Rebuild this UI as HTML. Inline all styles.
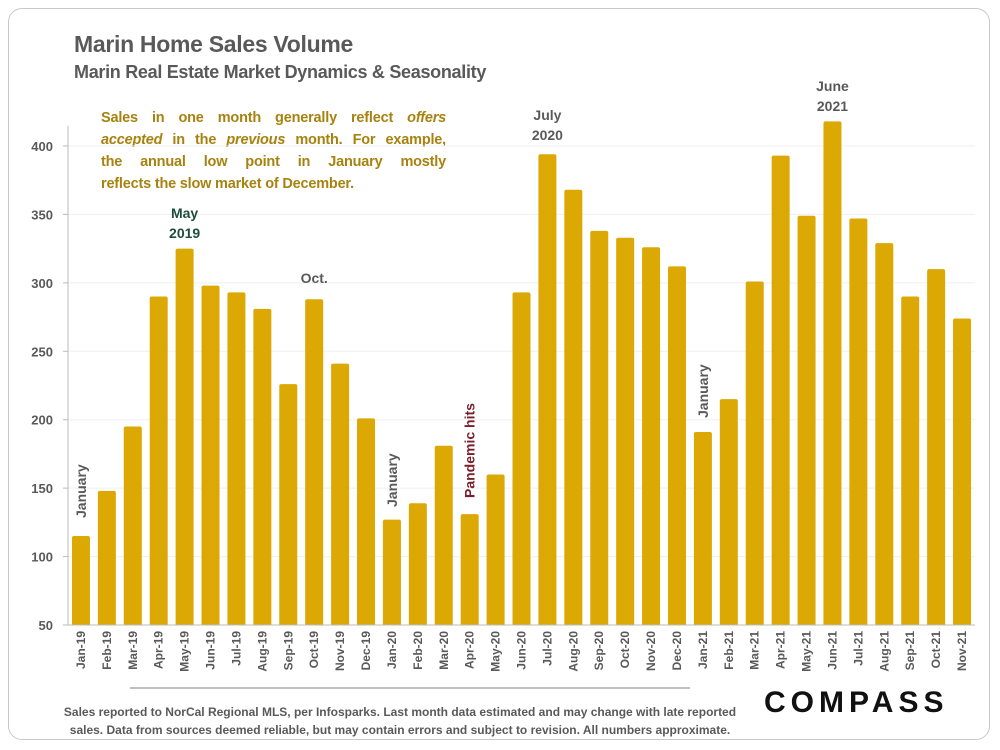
<!DOCTYPE html>
<html><head><meta charset="utf-8"><style>
body{margin:0;background:#fff;font-family:"Liberation Sans",sans-serif}
#frame{position:absolute;left:8px;top:8px;width:982px;height:732px;border:1.5px solid #c8c8c8;border-radius:14px;box-sizing:border-box}
.t{position:absolute;font-weight:bold;white-space:nowrap}
.nl{text-align:justify;text-align-last:justify;white-space:nowrap}
</style></head><body>
<div id="frame"></div>
<div class="t" style="left:74px;top:31px;font-size:23px;color:#595959;letter-spacing:-0.3px">Marin Home Sales Volume</div>
<div class="t" style="left:74px;top:62px;font-size:18px;color:#595959;letter-spacing:-0.3px">Marin Real Estate Market Dynamics &amp; Seasonality</div>
<div class="t" style="left:101px;top:107px;width:345px;font-size:14.5px;line-height:22px;color:#a8820f;letter-spacing:-0.2px">
<div class="nl">Sales in one month generally reflect <i>offers</i></div>
<div class="nl"><i>accepted</i> in the <i>previous</i> month. For example,</div>
<div class="nl">the annual low point in January mostly</div>
<div>reflects the slow market of December.</div>
</div>
<svg id="chart" width="1000" height="750" style="position:absolute;left:0;top:0"></svg>
<div class="t" style="left:50px;top:703px;width:700px;text-align:center;font-size:12px;line-height:18px;color:#595959;white-space:normal">Sales reported to NorCal Regional MLS, per Infosparks. Last month data estimated and may change with late reported sales. Data from sources deemed reliable, but may contain errors and subject to revision. All numbers approximate.</div>
<div class="t" style="left:764px;top:686px;font-size:30px;letter-spacing:5px;color:#111">COMPASS</div>
<script>
const categories=["Jan-19","Feb-19","Mar-19","Apr-19","May-19","Jun-19","Jul-19","Aug-19","Sep-19","Oct-19","Nov-19","Dec-19","Jan-20","Feb-20","Mar-20","Apr-20","May-20","Jun-20","Jul-20","Aug-20","Sep-20","Oct-20","Nov-20","Dec-20","Jan-21","Feb-21","Mar-21","Apr-21","May-21","Jun-21","Jul-21","Aug-21","Sep-21","Oct-21","Nov-21"];
const sales=[115,148,195,290,325,298,293,281,226,288,241,201,127,139,181,131,160,293,394,368,338,333,326,312,191,215,301,393,349,418,347,329,290,310,274];
const yTicks=[50,100,150,200,250,300,350,400];
const svg=document.getElementById('chart');const NS='http://www.w3.org/2000/svg';
const x0=68,x1=975,yMin=50,yMax=400,yB=625,yT=146;
const y=v=>yB-(v-yMin)/(yMax-yMin)*(yB-yT);
const step=(x1-x0)/categories.length;
const xc=i=>x0+step*(i+0.5);
function mk(t,a,txt){const e=document.createElementNS(NS,t);for(const k in a)e.setAttribute(k,a[k]);if(txt!=null)e.textContent=txt;svg.appendChild(e);return e;}
yTicks.forEach(v=>{
 if(v>yMin){const g=mk('line',{x1:x0,x2:x1,y1:y(v),y2:y(v),stroke:'#efefef','stroke-width':1});
 
 }
 const tk=mk('line',{x1:x0-5,x2:x0,y1:y(v),y2:y(v),stroke:'#bbb'});
 
 
 const l=mk('text',{x:53,y:y(v)+5,'text-anchor':'end','font-size':13,'font-weight':'bold',fill:'#595959'},v);
 
 
});
const ax=mk('line',{x1:x0,x2:x0,y1:yT-20,y2:yB,stroke:'#bbb'});


sales.forEach((v,i)=>{
 const bw=18,top=y(v);
 const r=mk('path',{d:`M${xc(i)-bw/2},${yB}V${top+2}Q${xc(i)-bw/2},${top} ${xc(i)-bw/2+2},${top}H${xc(i)+bw/2-2}Q${xc(i)+bw/2},${top} ${xc(i)+bw/2},${top+2}V${yB}Z`,fill:'#dba804'});
 
 
 const t=mk('text',{x:0,y:0,transform:`translate(${xc(i)+4},${yB+6}) rotate(-90)`,'text-anchor':'end','font-size':12,'font-weight':'bold',fill:'#595959'},categories[i]);
 
 
});
const xa=mk('line',{x1:x0,x2:x1,y1:yB,y2:yB,stroke:'#bbb'});


const sep=mk('line',{x1:130,x2:690,y1:688,y2:688,stroke:'#bfbfbf','stroke-width':2});


function ann(txt,x,yy,col,rot,name){const a={x:x,y:yy,'text-anchor':'middle','font-size':14,'font-weight':'bold',fill:col};
 if(rot){a.x=0;a.y=0;a.transform=`translate(${x},${yy}) rotate(-90)`;a['text-anchor']='start';}
 const e=mk('text',a,txt);
 
 }
ann('May',xc(4),218,'#1e4d3a',0,'annotation-may-2019');ann('2019',xc(4),238,'#1e4d3a',0,'annotation-may-2019-year');
ann('Oct.',xc(9),283,'#595959',0,'annotation-oct');
ann('July',xc(18),120,'#595959',0,'annotation-july-2020');ann('2020',xc(18),140,'#595959',0,'annotation-july-2020-year');
ann('June',xc(29),91,'#595959',0,'annotation-june-2021');ann('2021',xc(29),111,'#595959',0,'annotation-june-2021-year');
ann('January',xc(0)+5,518,'#595959',1,'annotation-january-2019');
ann('January',xc(12)+5,507,'#595959',1,'annotation-january-2020');
ann('January',xc(24)+5,418,'#595959',1,'annotation-january-2021');
ann('Pandemic hits',xc(15)+5,498,'#7a1f2b',1,'annotation-pandemic');
</script>
</body></html>
